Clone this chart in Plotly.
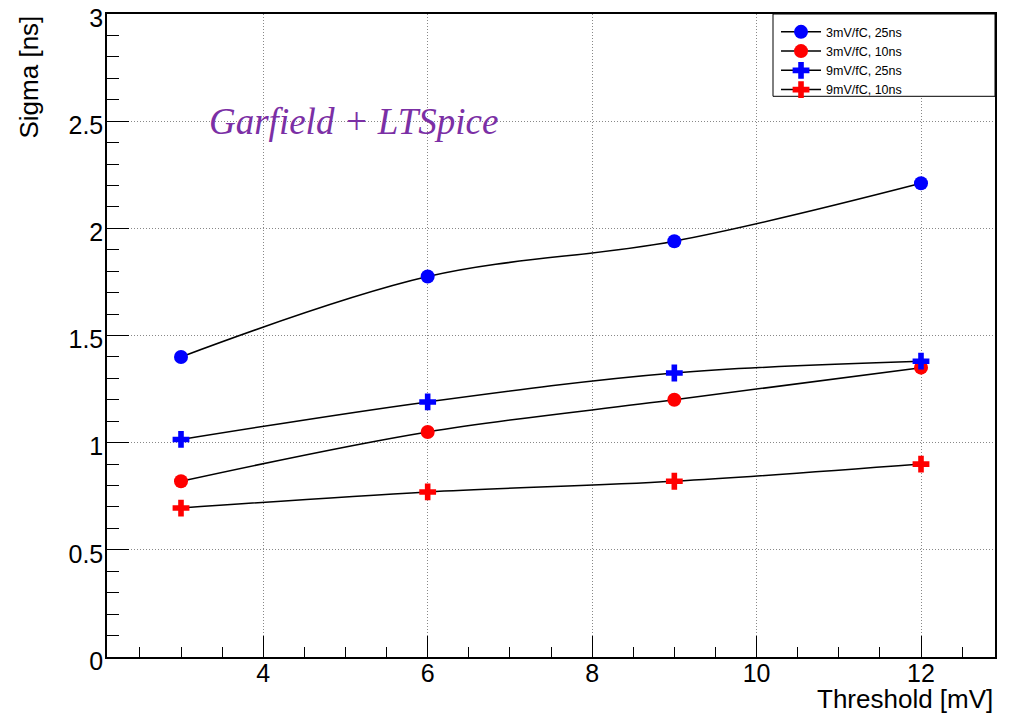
import plotly.graph_objects as go

thresholds = [3, 6, 9, 12]
s_3mv_25ns = [1.40, 1.775, 1.94, 2.21]
s_3mv_10ns = [0.82, 1.05, 1.20, 1.35]
s_9mv_25ns = [1.015, 1.19, 1.325, 1.38]
s_9mv_10ns = [0.695, 0.77, 0.82, 0.90]
names = ["3mV/fC, 25ns", "3mV/fC, 10ns", "9mV/fC, 25ns", "9mV/fC, 10ns"]
series = [s_3mv_25ns, s_3mv_10ns, s_9mv_25ns, s_9mv_10ns]
colors = ["#0000ff", "#ff0000", "#0000ff", "#ff0000"]
symbols = ["circle", "circle", "cross", "cross"]

FONT = "Liberation Sans, Arial, Helvetica, sans-serif"

fig = go.Figure()
for n, s, c, sym in zip(names, series, colors, symbols):
    fig.add_trace(go.Scatter(
        x=thresholds, y=s, name=n, mode="lines+markers",
        line=dict(color="black", width=1.5, shape="spline", smoothing=1),
        marker=dict(color=c, symbol=sym, size=14, line=dict(width=0)),
    ))

axis_common = dict(
    showline=True, linecolor="black", linewidth=1.5, mirror=True,
    ticks="inside", tickcolor="black", tickwidth=1,
    showgrid=True, gridcolor="#888888", griddash="1px,2px", gridwidth=1,
    zeroline=False, automargin=False, ticklabeloverflow="allow",
    tickfont=dict(family=FONT, size=25, color="black"),
)

# page body has an 8px default margin; compensate so axes land where the reference has them
fig.update_layout(
    width=1007, height=709,
    margin=dict(l=99, r=20, t=6, b=60),
    paper_bgcolor="white", plot_bgcolor="white",
    xaxis=dict(range=[2.1, 12.9], dtick=2, tick0=0, ticklen=21, ticklabelstandoff=-7,
               minor=dict(dtick=0.5, ticklen=10, ticks="inside", tickcolor="black", showgrid=False),
               **axis_common),
    yaxis=dict(range=[0, 3], dtick=0.5, tick0=0, ticklen=22, ticklabelstandoff=-3,
               ticklabelshift=4,
               minor=dict(dtick=0.1, ticklen=12, ticks="inside", tickcolor="black", showgrid=False),
               **axis_common),
    showlegend=True,
    legend=dict(x=0.7534, xanchor="left", y=0.995, yanchor="top",
                borderwidth=0, bgcolor="rgba(0,0,0,0)",
                font=dict(family=FONT, size=12.5, color="black"),
                tracegroupgap=0, itemwidth=40),
    shapes=[dict(type="rect", xref="paper", yref="paper", x0=0.75, x1=1.0, y0=0.872, y1=1.0,
                 line=dict(color="black", width=1), fillcolor="white", layer="above")],
    annotations=[
        dict(text="Threshold [mV]", x=1, xref="paper", xanchor="right",
             y=0, yref="paper", yanchor="top", yshift=-25, showarrow=False,
             font=dict(family=FONT, size=26, color="black")),
        dict(text="Sigma [ns]", x=0, xref="paper", xanchor="center", xshift=-79,
             y=1, yref="paper", yanchor="top", yshift=0, textangle=-90, showarrow=False,
             font=dict(family=FONT, size=26, color="black")),
        dict(text="<i>Garfield + LTSpice</i>", x=3.32, xref="x", xanchor="left",
             y=2.5, yref="y", yanchor="middle", showarrow=False,
             font=dict(family="Liberation Serif, Times New Roman, serif", size=37, color="#7b2fa5")),
    ],
)

fig.write_html("out.html")
